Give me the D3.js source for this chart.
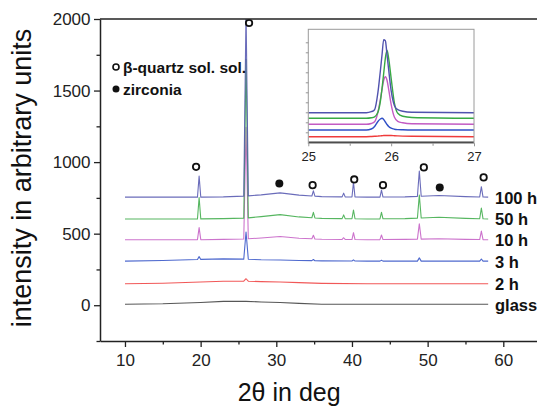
<!DOCTYPE html>
<html>
<head>
<meta charset="utf-8">
<script src="https://cdn.jsdelivr.net/npm/d3@7"></script>
<style>
  html, body { margin: 0; padding: 0; background: #fff; }
  svg { display: block; font-family: "Liberation Sans", Arial, Helvetica, sans-serif; }
</style>
</head>
<body>
<svg id="chart" width="537" height="409"></svg>
<script>
// ---------------- data ----------------
const seriesNames = ["glass", "2 h", "3 h", "10 h", "50 h", "100 h"];
const seriesOffsets = [7, 150, 308, 458, 603, 755];
const seriesColors = ["#3a3a3a", "#ef3b3b", "#2f4fc6", "#c35bc3", "#38a944", "#5052ae"];

// amorphous background (relative to offset) at these 2θ positions
const bgX = [10, 15, 20, 23, 26, 28, 30.5, 33, 36, 42, 47, 51.5, 55, 58];
const bgGlass = [0, 3, 12, 20, 20, 16, 12, 6, 0, 0, 0, 0, 0, 0];
const bg2h    = [0, 4, 12, 18, 18, 15, 12, 8, 3, 0, 0, 0, 0, 0];
const bg3h    = [0, 5, 12, 16, 14, 10, 8, 5, 2, 0, 0, 0, 0, 0];
const bg10h   = [0, 0, 0, 2, 5, 12, 22, 10, 3, 0, 2, 6, 2, 0];
const bg50h   = [0, 0, 0, 2, 6, 16, 30, 14, 4, 0, 2, 12, 4, 0];
const bg100h  = [0, 0, 0, 2, 8, 16, 30, 14, 4, 0, 2, 12, 4, 0];

// sharp reflections: positions, half base widths, heights per series
const peakPos = [19.8, 26.0, 34.9, 38.9, 40.2, 43.9, 48.9, 57.1];
const peakW   = [0.22, 0.3, 0.2, 0.2, 0.2, 0.2, 0.25, 0.22];
const pkGlass = [0, 0, 0, 0, 0, 0, 0, 0];
const pk2h    = [0, 17, 0, 0, 0, 0, 0, 0];
const pk3h    = [20, 190, 8, 0, 8, 6, 23, 15];
const pk10h   = [84, 780, 25, 12, 48, 32, 108, 59];
const pk50h   = [150, 1110, 38, 26, 61, 45, 160, 75];
const pk100h  = [147, 1300, 37, 26, 103, 49, 177, 72];

// phase markers
const markerX = [19.4, 26.4, 30.4, 34.8, 40.3, 44.1, 49.5, 51.6, 57.4];
const markerY = [967, 1972, 851, 839, 879, 839, 963, 823, 893];
const markerPhase = ["q", "q", "z", "q", "q", "q", "q", "z", "q"];

// inset (zoom on the 26° reflection)
const insetX = [25, 25.7, 25.76, 25.8, 25.84, 25.87, 25.89, 25.91, 25.93, 25.95, 25.97, 26.0, 26.04, 26.08, 26.14, 26.25, 27];
const insetOffsets = [0, 56, 123, 180, 240, 296];
const inGlass = [0,0,0,0,0,0,0,0,0,0,0,0,0,0,0,0,0];
const in2h    = [0,0,2,4,6,8,10,12,12,12,12,12,10,8,6,4,0];
const in3h    = [0,0,10,35,85,110,117,105,80,55,35,18,8,4,2,0,0];
const in10h   = [0,0,8,25,120,250,350,440,475,440,350,200,70,30,15,5,0];
const in50h   = [0,0,5,15,60,170,300,450,600,680,600,400,150,50,20,8,0];
const in100h  = [0,0,10,30,200,420,580,730,720,580,430,220,70,30,15,5,0];

const xTicks = [10, 20, 30, 40, 50, 60];
const xMinor = [15, 25, 35, 45, 55];
const yTicks = [0, 500, 1000, 1500, 2000];
const yMinor = [-250, 250, 750, 1250, 1750];
const insetXTicks = [25, 26, 27];
const insetXMinor = [25.5, 26.5];
const insetYTicks = [100, 200, 300, 400, 500, 600, 700, 800, 900, 1000];

const bgs = [bgGlass, bg2h, bg3h, bg10h, bg50h, bg100h];
const pks = [pkGlass, pk2h, pk3h, pk10h, pk50h, pk100h];
const ins = [inGlass, in2h, in3h, in10h, in50h, in100h];

// ---------------- layout ----------------
const svg = d3.select("#chart");
const L = 100, T = 19, R = 540, B = 341;
const x = d3.scaleLinear().domain([6.7, 64.85]).range([L, R]);
const y = d3.scaleLinear().domain([-250, 2000]).range([B, T]);
const axisColor = "#222";

svg.append("defs").append("clipPath").attr("id", "plotClip")
  .append("rect").attr("x", L).attr("y", T).attr("width", R - L).attr("height", B - T);

// spectra
const line = d3.line().x(d => x(d[0])).y(d => y(d[1]));
const plotG = svg.append("g").attr("clip-path", "url(#plotClip)");
seriesNames.forEach((name, i) => {
  const bg = d3.scaleLinear().domain(bgX).range(bgs[i]);
  const pts = [];
  bgX.forEach(xx => {
    const inside = peakPos.some((p, k) => pks[i][k] > 0 && Math.abs(xx - p) <= peakW[k]);
    if (!inside) pts.push([xx, bg(xx)]);
  });
  peakPos.forEach((p, k) => {
    const h = pks[i][k];
    if (h > 0) {
      pts.push([p - peakW[k], bg(p - peakW[k])]);
      pts.push([p, bg(p) + h]);
      pts.push([p + peakW[k], bg(p + peakW[k])]);
    }
  });
  pts.sort((a, b) => a[0] - b[0]);
  const data = pts.map(d => [d[0], d[1] + seriesOffsets[i]]);
  plotG.append("path").datum(data)
    .attr("d", line)
    .attr("fill", "none")
    .attr("stroke", seriesColors[i])
    .attr("stroke-width", 1.1)
    .attr("stroke-opacity", 0.85)
    .attr("stroke-linejoin", "round");
});

// series labels
seriesNames.forEach((name, i) => {
  svg.append("text")
    .attr("x", 495)
    .attr("y", y(seriesOffsets[i]) + 6.5)
    .attr("font-size", 16.5)
    .attr("font-weight", "bold")
    .attr("fill", "#111")
    .text(name);
});

// markers
markerX.forEach((mx, i) => {
  const c = svg.append("circle").attr("cx", x(mx)).attr("cy", y(markerY[i]));
  if (markerPhase[i] === "q") {
    c.attr("r", 3.2).attr("fill", "#fff").attr("stroke", "#111").attr("stroke-width", 1.8);
  } else {
    c.attr("r", 4).attr("fill", "#111");
  }
});

// frame
svg.append("line").attr("x1", L).attr("x2", R).attr("y1", T).attr("y2", T)
  .attr("stroke", axisColor).attr("stroke-width", 1.5);

// axes
function styleAxis(g) {
  g.select(".domain").attr("stroke", axisColor).attr("stroke-width", 1.5);
  g.selectAll(".tick line").attr("stroke", axisColor).attr("stroke-width", 1.3);
  g.selectAll(".tick text").attr("fill", "#222").attr("font-size", 17)
    .attr("font-family", '"Liberation Sans", Arial, sans-serif');
}
const xAxisG = svg.append("g").attr("transform", `translate(0,${B})`)
  .call(d3.axisBottom(x).tickValues(xTicks).tickSize(6).tickPadding(7).tickSizeOuter(0).tickFormat(d3.format("d")));
styleAxis(xAxisG);
const xMinorG = svg.append("g").attr("transform", `translate(0,${B})`)
  .call(d3.axisBottom(x).tickValues(xMinor).tickSize(3.5).tickFormat("").tickSizeOuter(0));
styleAxis(xMinorG);
xMinorG.select(".domain").remove();

const yAxisG = svg.append("g").attr("transform", `translate(${L},0)`)
  .call(d3.axisLeft(y).tickValues(yTicks).tickSize(6).tickPadding(3.5).tickSizeOuter(0).tickFormat(d3.format("d")));
styleAxis(yAxisG);
const yMinorG = svg.append("g").attr("transform", `translate(${L},0)`)
  .call(d3.axisLeft(y).tickValues(yMinor).tickSize(3.5).tickFormat("").tickSizeOuter(0));
styleAxis(yMinorG);
yMinorG.select(".domain").remove();

// axis titles
svg.append("text")
  .attr("transform", `translate(31,178) rotate(-90)`)
  .attr("text-anchor", "middle")
  .attr("font-size", 27)
  .attr("fill", "#111")
  .text("intensity in arbitrary units");
svg.append("text")
  .attr("x", x(31.7)).attr("y", 401)
  .attr("text-anchor", "middle")
  .attr("font-size", 25)
  .attr("fill", "#111")
  .text("2θ in deg");

// legend
svg.append("circle").attr("cx", 116).attr("cy", 67).attr("r", 3)
  .attr("fill", "#fff").attr("stroke", "#111").attr("stroke-width", 1.6);
svg.append("text").attr("x", 123).attr("y", 72.5)
  .attr("font-size", 15.5).attr("font-weight", "bold").attr("fill", "#111")
  .text("β-quartz sol. sol.");
svg.append("circle").attr("cx", 116).attr("cy", 89).attr("r", 3.5).attr("fill", "#111");
svg.append("text").attr("x", 123).attr("y", 94.5)
  .attr("font-size", 15.5).attr("font-weight", "bold").attr("fill", "#111")
  .text("zirconia");

// ---------------- inset ----------------
const IL = 308.3, IR = 474, IT = 29.3, IB = 143.3;
const ix = d3.scaleLinear().domain([25, 27]).range([IL, IR]);
const iy = d3.scaleLinear().domain([-10, 1130]).range([IB, IT]);
svg.append("rect").attr("x", IL).attr("y", IT).attr("width", IR - IL).attr("height", IB - IT)
  .attr("fill", "#fff");
svg.append("defs").append("clipPath").attr("id", "insetClip")
  .append("rect").attr("x", IL).attr("y", IT).attr("width", IR - IL).attr("height", IB - IT);
const iline = d3.line().x(d => ix(d[0])).y(d => iy(d[1])).curve(d3.curveMonotoneX);
const insetG = svg.append("g").attr("clip-path", "url(#insetClip)");
seriesNames.forEach((name, i) => {
  const data = insetX.map((xx, k) => [xx, ins[i][k] + insetOffsets[i]]);
  insetG.append("path").datum(data)
    .attr("d", iline)
    .attr("fill", "none")
    .attr("stroke", seriesColors[i])
    .attr("stroke-width", 1.4);
});
svg.append("rect").attr("x", IL).attr("y", IT).attr("width", IR - IL).attr("height", IB - IT)
  .attr("fill", "none").attr("stroke", "#9a9a9a").attr("stroke-width", 1);

function styleInset(g) {
  g.select(".domain").remove();
  g.selectAll(".tick line").attr("stroke", "#8a8a8a").attr("stroke-width", 0.9);
  g.selectAll(".tick text").attr("fill", "#222").attr("font-size", 13)
    .attr("font-family", '"Liberation Sans", Arial, sans-serif');
}
const ixG = svg.append("g").attr("transform", `translate(0,${IB})`)
  .call(d3.axisBottom(ix).tickValues(insetXTicks).tickSize(3).tickPadding(5).tickFormat(d3.format("d")));
styleInset(ixG);
const ixmG = svg.append("g").attr("transform", `translate(0,${IB})`)
  .call(d3.axisBottom(ix).tickValues(insetXMinor).tickSize(2.5).tickFormat(""));
styleInset(ixmG);
const iyG = svg.append("g").attr("transform", `translate(${IL},0)`)
  .call(d3.axisLeft(iy).tickValues(insetYTicks).tickSize(2.5).tickFormat(""));
styleInset(iyG);
</script>
</body>
</html>
